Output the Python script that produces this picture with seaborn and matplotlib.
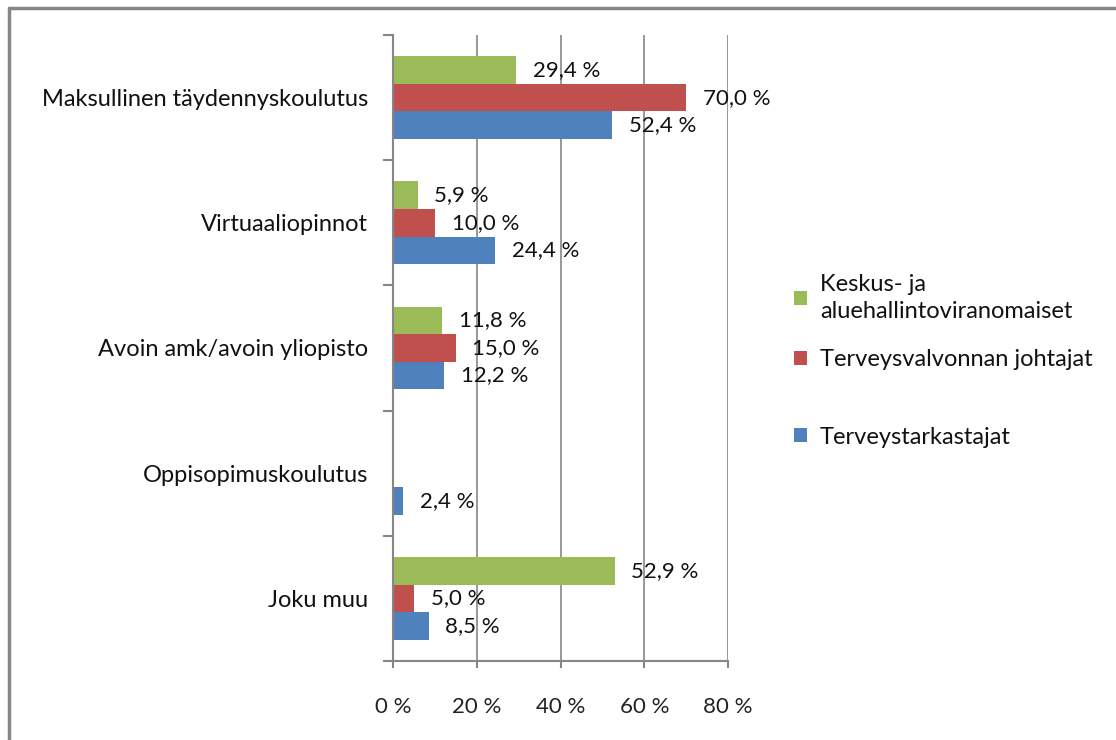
import matplotlib
matplotlib.use("Agg")
import matplotlib.pyplot as plt
from matplotlib.lines import Line2D
from matplotlib.patches import Patch
import seaborn as sns
import pandas as pd

categories = ["Maksullinen täydennyskoulutus", "Virtuaaliopinnot",
              "Avoin amk/avoin yliopisto", "Oppisopimuskoulutus", "Joku muu"]
series = ["Keskus- ja\naluehallintoviranomaiset", "Terveysvalvonnan johtajat",
          "Terveystarkastajat"]
green_vals = [29.4, 5.9, 11.8, 0.0, 52.9]
red_vals = [70.0, 10.0, 15.0, 0.0, 5.0]
blue_vals = [52.4, 24.4, 12.2, 2.4, 8.5]
x_ticks = [0, 20, 40, 60, 80]
colors = ["#9BBB59", "#C0504D", "#4F81BD"]

rows = []
for s, vals in zip(series, [green_vals, red_vals, blue_vals]):
    for c, v in zip(categories, vals):
        rows.append({"cat": c, "series": s, "val": v})
df = pd.DataFrame(rows)

FS = 16
FS_CAT = 17
sns.set_theme(style="white")
plt.rcParams["font.family"] = ["Lato", "DejaVu Sans"]
fig = plt.figure(figsize=(11.16, 7.4), dpi=100)
ax = fig.add_axes([393/1116, 1-661/740, (728-393)/1116, (661-35)/740])

sns.barplot(data=df, x="val", y="cat", hue="series", order=categories,
            hue_order=series, palette=colors, orient="h", width=0.66,
            saturation=1, ax=ax, legend=False, linewidth=0)

ax.set_xlim(0, 80)
ax.set_ylim(4.5, -0.5)
ax.set_xticks(x_ticks)
ax.set_xticklabels([f"{t} %" for t in x_ticks], fontsize=FS, color="#222222")
ax.set_xlabel("")
ax.set_ylabel("")
ax.xaxis.grid(True, color="#868686", linewidth=1.2)
ax.set_axisbelow(True)
for sp in ["top", "right"]:
    ax.spines[sp].set_visible(False)
for sp in ["left", "bottom"]:
    ax.spines[sp].set_color("#868686")
    ax.spines[sp].set_linewidth(1.5)

ax.set_yticks(range(len(categories)))
ax.set_yticklabels(categories, fontsize=FS_CAT, color="#111111")
ax.tick_params(axis="y", which="major", length=0, pad=18)
ax.set_yticks([i - 0.5 for i in range(len(categories) + 1)], minor=True)
ax.tick_params(axis="y", which="minor", length=7, width=1.5, color="#868686", left=True)
ax.tick_params(axis="x", which="major", length=5, width=1.5, color="#868686",
               bottom=True, pad=21)

for cont in ax.containers:
    labels = [f"{v:.1f} %".replace(".", ",") if v > 0 else "" for v in cont.datavalues]
    ax.bar_label(cont, labels=labels, padding=12, fontsize=FS, color="#111111")

# legend: one entry per series, placed like the reference
legend_y = [298, 360, 437]
for name, col, ly in zip(series, colors, legend_y):
    lg = fig.legend(handles=[Patch(facecolor=col, edgecolor="none")], labels=[name],
                    loc="center left", bbox_to_anchor=(794/1116, 1-ly/740),
                    frameon=False, fontsize=FS_CAT, handlelength=0.55, handleheight=0.55,
                    handletextpad=0.55, borderpad=0, borderaxespad=0)
    for t in lg.get_texts():
        t.set_color("#111111")
        t.set_linespacing(1.3)

# outer frame lines (top and left)
fig.add_artist(Line2D([9/1116, 9/1116], [0, 1-8/740], transform=fig.transFigure,
                      color="#868686", linewidth=2.5))
fig.add_artist(Line2D([9/1116, 1], [1-8/740, 1-8/740], transform=fig.transFigure,
                      color="#868686", linewidth=2.5))

fig.savefig("out.png", dpi=100, facecolor="white")
